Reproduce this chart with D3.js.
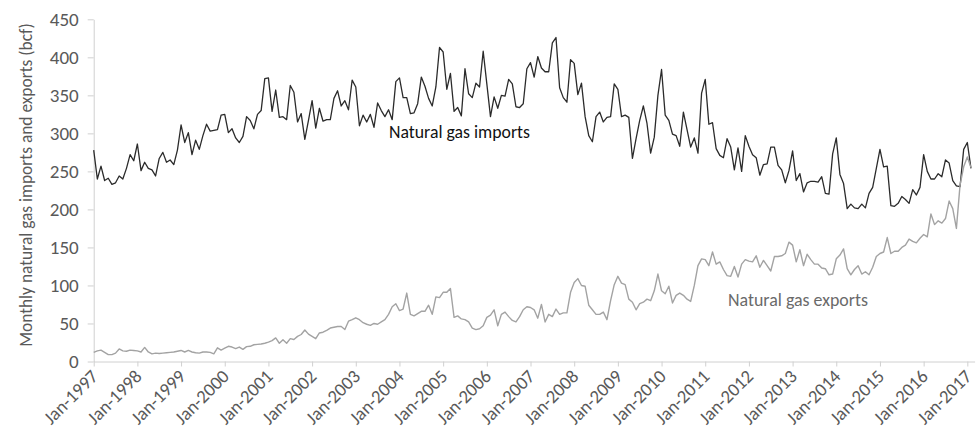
<!DOCTYPE html>
<html><head><meta charset="utf-8">
<script src="https://cdn.jsdelivr.net/npm/d3@7"></script>
<style>
html,body{margin:0;padding:0;background:#fff;}
svg{display:block;}
text{font-family:Carlito, Calibri, Lato, sans-serif;}
</style></head><body>
<svg id="chart" width="977" height="436"></svg>
<script>
// ---- data ----
const tickLabels = ["Jan-1997","Jan-1998","Jan-1999","Jan-2000","Jan-2001","Jan-2002","Jan-2003",
  "Jan-2004","Jan-2005","Jan-2006","Jan-2007","Jan-2008","Jan-2009","Jan-2010","Jan-2011",
  "Jan-2012","Jan-2013","Jan-2014","Jan-2015","Jan-2016","Jan-2017"];
const yTicks = [0,50,100,150,200,250,300,350,400,450];
const seriesNames = ["Natural gas imports","Natural gas exports"];
const yTitle = "Monthly natural gas imports and exports (bcf)";
// monthly values, Jan-1997 .. Feb-2017 (one row per year)
const imports = [
  278,240,257,238,241,233,235,244,240,254,272,264,
  286,251,262,254,252,244,267,275,262,265,259,278,
  311,288,301,272,291,279,297,312,303,304,305,324,
  325,301,306,294,288,296,322,317,306,325,330,372,
  373,329,357,321,322,318,363,354,315,326,292,317,
  343,307,333,316,318,318,346,356,336,343,331,370,
  361,310,324,315,325,308,340,330,322,331,318,368,
  373,347,347,326,327,339,374,362,346,336,361,413,
  407,358,379,329,334,323,385,352,347,366,361,408,
  365,322,348,333,350,349,371,365,335,334,339,385,
  393,374,401,386,381,381,419,426,360,347,341,397,
  392,351,366,322,297,289,322,328,315,321,322,365,
  358,322,324,321,267,293,317,336,313,274,295,350,
  384,324,317,299,297,283,328,305,282,294,274,353,
  371,312,314,280,271,268,293,282,252,281,250,297,
  283,272,268,245,259,260,282,282,258,252,235,251,
  277,238,247,223,235,237,237,236,243,221,220,273,
  294,246,234,201,207,202,201,207,202,221,229,254,
  279,256,257,205,204,208,217,213,208,226,219,229,
  272,250,240,240,247,243,265,261,238,231,230,279,
  288,254
];
const exports = [
  12,14,15,12,9,9,11,16.5,14,13.5,15,14.5,
  14,12.5,18.5,12.5,10,11,10.5,11,11.5,12,12.5,13.5,
  14.5,12.5,14.5,12.5,11.5,11,12.5,12.5,12,10,18,15,
  17.5,20,19,17,19,16,19.5,20,22,22.5,23,24,
  25.5,27.5,31,24,28.5,24,30,29,33,35.5,41.5,36,
  33,30,37.5,38.5,41,44,45,46,46,42,53,55,
  57.5,55,51,49,47.5,50,49,52,55,62,72,76,
  67,69,90,62,60,63,66,66,74,62,85,84,
  91,91,96,58,60,56,55,52,44,42,43,47,
  58,61,68,47,62,65,59,54,52,59,68,72,
  71,68,57,75,52,62,59,69,62,64,64,91,
  104,109,100,99,74,68,62,62,65,55,80,101,
  112,103,101,82,78,68,76,78,82,80,93,115,
  93,89,99,77,87,90,87,82,79,100,126,135,
  134,126,144,128,131,121,113,112,125,111,128,134,
  132,131,139,124,133,126,119,138,138,139,142,157,
  153,131,147,126,141,134,128,128,123,122,114,115,
  135,140,148,122,114,121,126,115,118,114,124,138,
  142,144,163,142,145,145,150,153,161,158,156,162,
  167,164,194,180,185,182,188,211,201,175,232,256,
  269,255
];

// ---- chart ----
const svg = d3.select("#chart");
const axisColor = "#d0d0d0", labelColor = "#595959";
const x = d3.scaleLinear().domain([0, imports.length]).range([93.7, 974.6]);
const y = d3.scaleLinear().domain([0, 450]).range([361.5, 19.3]);

function fit(sel, target){
  const w = sel.node().getComputedTextLength();
  const fs = parseFloat(sel.style("font-size"));
  const nfs = fs * target / w;
  sel.style("font-size", nfs + "px");
  return nfs;
}

// series labels
const impLabel = svg.append("text").attr("x", 389).attr("y", 138)
  .style("font-size", "17.5px").attr("fill", "#111").text(seriesNames[0]);
const baseFs = fit(impLabel, 141);
const expLabel = svg.append("text").attr("x", 728).attr("y", 306)
  .style("font-size", baseFs + "px").attr("fill", "#6a6a6a").text(seriesNames[1]);
fit(expLabel, 140);

// y axis
const yAxis = svg.append("g").attr("transform", "translate(93.7,0)")
  .call(d3.axisLeft(y).tickValues(yTicks).tickSize(6).tickSizeOuter(0).tickPadding(9));
yAxis.attr("font-family", null).attr("font-size", null);
yAxis.select(".domain").attr("stroke", axisColor);
yAxis.selectAll(".tick line").attr("stroke", axisColor);
const yTickText = yAxis.selectAll(".tick text").attr("fill", labelColor)
  .style("font-size", baseFs + "px");
const yFs = fit(yTickText.filter(d => d === 450), 29);
yTickText.style("font-size", yFs + "px");

// x axis
const xAxis = svg.append("g").attr("transform", "translate(0,361.5)")
  .call(d3.axisBottom(x).tickValues(tickLabels.map((d, i) => i * 12))
    .tickSize(5).tickSizeOuter(0).tickFormat((d, i) => tickLabels[i]));
xAxis.attr("font-family", null).attr("font-size", null);
xAxis.select(".domain").attr("stroke", axisColor);
xAxis.selectAll(".tick line").attr("stroke", axisColor);
const xTickText = xAxis.selectAll(".tick text").attr("fill", labelColor)
  .style("font-size", baseFs + "px")
  .attr("x", 0).attr("y", 0).attr("dy", 0)
  .attr("text-anchor", "end")
  .attr("transform", "translate(5,16) rotate(-45)");
const xFs = fit(xTickText.filter(d => d === 0), 68);
xTickText.style("font-size", xFs + "px");

// y title
const yt = svg.append("text")
  .attr("transform", "translate(32,185) rotate(-90)")
  .attr("text-anchor", "middle").attr("fill", labelColor)
  .style("font-size", baseFs + "px").text(yTitle);
fit(yt, 324);

// lines
const line = d3.line().x((d, i) => x(i)).y(d => y(d));
svg.append("path").datum(imports).attr("fill", "none")
  .attr("stroke", "#2b2b2b").attr("stroke-width", 1.3).attr("stroke-linejoin", "round")
  .attr("d", line);
svg.append("path").datum(exports).attr("fill", "none")
  .attr("stroke", "#a3a3a3").attr("stroke-width", 1.4).attr("stroke-linejoin", "round")
  .attr("d", line);
</script>
</body></html>
